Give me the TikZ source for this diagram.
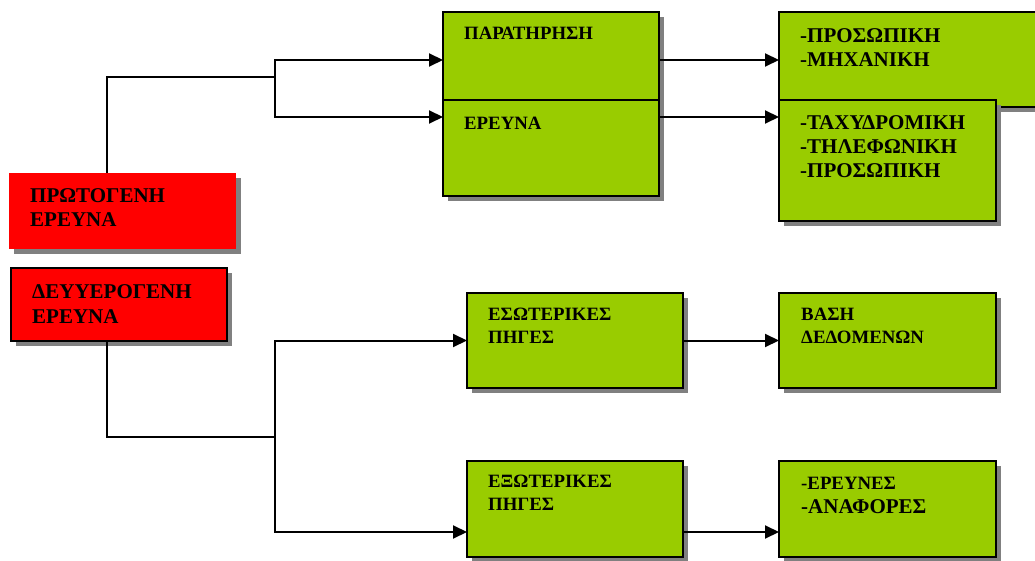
\documentclass[tikz,border=0pt]{standalone}
\usepackage{fontspec}
\setmainfont{Liberation Serif}
\usetikzlibrary{arrows.meta,shadows}

\definecolor{boxgreen}{HTML}{99CC00}
\definecolor{boxred}{HTML}{FF0000}
\definecolor{shade}{HTML}{808080}

\tikzset{
  box/.style={rectangle, anchor=north west, inner sep=0pt, outer sep=0pt, line width=2pt,
    drop shadow={shadow xshift=5pt, shadow yshift=-5pt, fill=shade, opacity=1}},
  greenbox/.style={box, draw=black, fill=boxgreen},
  redbox/.style={box, fill=boxred},
  lbl/.style={anchor=base west, align=left, inner sep=0pt, font=\bfseries\fontsize{18.8}{23}\selectfont},
  biglbl/.style={lbl, font=\bfseries\fontsize{21}{24}\selectfont},
  conn/.style={line width=2pt, >={Triangle[length=14pt,width=13pt]}}
}

\begin{document}
\begin{tikzpicture}[x=1pt,y=-1pt]
        \useasboundingbox (0,0) rectangle (1035,561);

        % primary research
        \node[redbox, minimum width=227pt, minimum height=76pt] (prim) at (9,173) {};
        \node[greenbox, minimum width=216pt, minimum height=88pt] (obs) at (443,12) {};
        \node[greenbox, minimum width=216pt, minimum height=96pt] (srv) at (443,100) {};
        \node[greenbox, minimum width=270pt, minimum height=95pt] (pers) at (779,12) {};
        \node[greenbox, minimum width=217pt, minimum height=121pt] (post) at (779,100) {};

        % secondary research
        \node[redbox, draw=black, minimum width=216pt, minimum height=73pt] (sec) at (11,268) {};
        \node[greenbox, minimum width=216pt, minimum height=95pt] (int) at (467,293) {};
        \node[greenbox, minimum width=217pt, minimum height=95pt] (db) at (779,293) {};
        \node[greenbox, minimum width=216pt, minimum height=96pt] (ext) at (467,461) {};
        \node[greenbox, minimum width=217pt, minimum height=96pt] (rep) at (779,461) {};

        % labels, placed at the baseline of their last line
        \node[biglbl] (primtxt) at (30,226) {ΠΡΩΤΟΓΕΝΗ\\ΕΡΕΥΝΑ};
        \node[biglbl] (sectxt) at (32,323) {ΔΕΥΥΕΡΟΓΕΝΗ\\[1pt]ΕΡΕΥΝΑ};
        \node[lbl] (obstxt) at (464,40) {ΠΑΡΑΤΗΡΗΣΗ};
        \node[lbl] (srvtxt) at (464,130) {ΕΡΕΥΝΑ};
        \node[biglbl] (perstxt) at (800,67) {-ΠΡΟΣΩΠΙΚΗ\\-ΜΗΧΑΝΙΚΗ};
        \node[biglbl] (posttxt) at (800,178) {-ΤΑΧΥΔΡΟΜΙΚΗ\\-ΤΗΛΕΦΩΝΙΚΗ\\-ΠΡΟΣΩΠΙΚΗ};
        \node[lbl] (inttxt) at (488,343) {ΕΣΩΤΕΡΙΚΕΣ\\ΠΗΓΕΣ};
        \node[lbl] (dbtxt) at (801,343) {ΒΑΣΗ\\ΔΕΔΟΜΕΝΩΝ};
        \node[lbl] (exttxt) at (488,510) {ΕΞΩΤΕΡΙΚΕΣ\\ΠΗΓΕΣ};
        \node[lbl] (reptxt) at (801,513) {-ΕΡΕΥΝΕΣ\\[1pt]{\fontsize{21}{24}\selectfont -ΑΝΑΦΟΡΕΣ}};

        \coordinate (topfork) at (275,77);
        \coordinate (lowfork) at (275,437);

        \draw[conn] ([xshift=-16pt]prim.north) |- (topfork);
        \draw[conn, ->] (topfork) |- ([yshift=-48pt]obs.north west);
        \draw[conn, ->] (topfork) |- ([yshift=-17pt]srv.north west);
        \draw[conn, ->] ([yshift=-48pt]obs.north east) -- ([yshift=-48pt]obs.north east -| pers.west);
        \draw[conn, ->] ([yshift=-17pt]srv.north east) -- ([yshift=-17pt]srv.north east -| post.west);

        \draw[conn] ([xshift=-12pt]sec.south) |- (lowfork);
        \draw[conn, ->] (lowfork) |- (int.west);
        \draw[conn, ->] (lowfork) |- ([yshift=25pt]ext.south west);
        \draw[conn, ->] (int.east) -- (db.west);
        \draw[conn, ->] ([yshift=25pt]ext.south east) -- ([yshift=25pt]ext.south east -| rep.west);
      \end{tikzpicture}
\end{document}
